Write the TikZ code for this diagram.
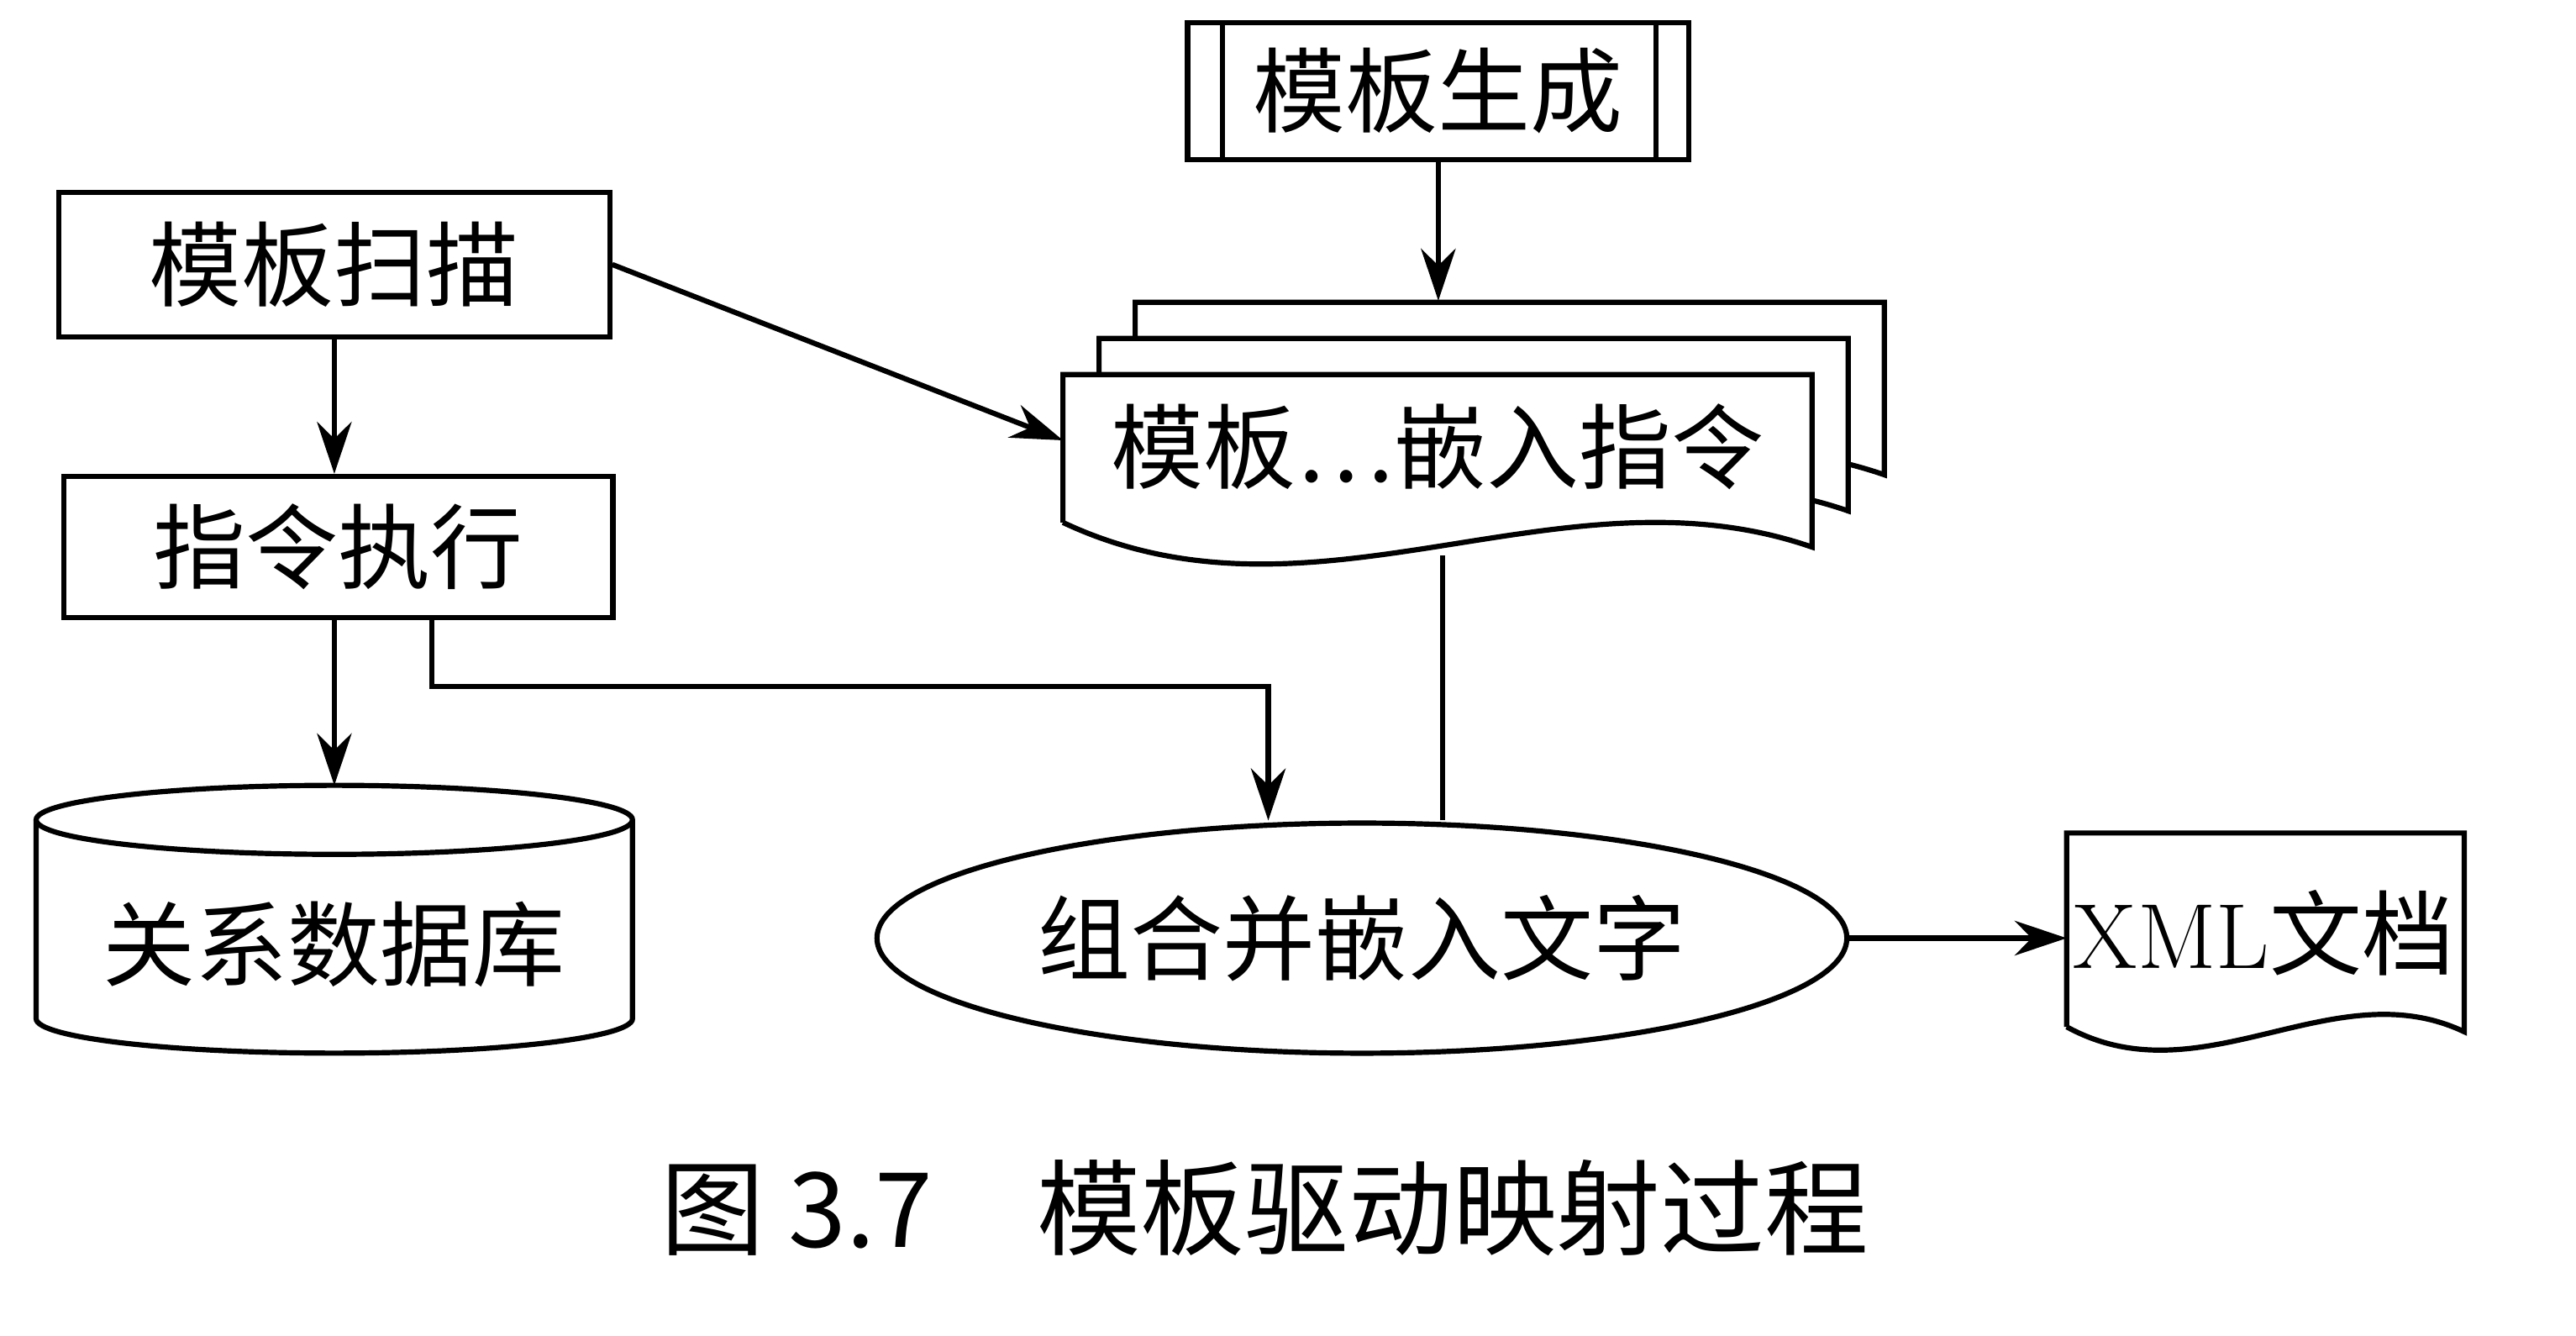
\documentclass[tikz,border=0pt]{standalone}
\usepackage{fontspec}
\newfontfamily\cjk{Noto Sans CJK SC}
\usetikzlibrary{shapes.geometric,arrows.meta,positioning}
\begin{document}
\begin{tikzpicture}[x=0.01cm,y=-0.01cm,
  lbl/.style={font=\cjk\fontsize{16}{20}\selectfont},
  box/.style={draw,line width=0.9pt,lbl,inner sep=0pt},
  ln/.style={line width=0.9pt},
  arr/.style={ln,-{Stealth[length=9pt,width=6pt]}}]
\useasboundingbox (0,0) rectangle (1568,813);
% process box
\node[box,minimum width=3.05cm,minimum height=0.83cm] (gen) at (875.5,55.5) {模板生成};
\draw[ln] (744,14) -- (744,97) (1008,14) -- (1008,97);
\node[box,minimum width=3.35cm,minimum height=0.88cm] (scan) at (203.5,161) {模板扫描};
\node[box,minimum width=3.34cm,minimum height=0.86cm] (exec) at (206,333) {指令执行};
% cylinder
\draw[ln] (22,499) -- (22,620) arc[start angle=180,end angle=0,x radius=181.5,y radius=21] -- (385,499);
\draw[ln] (203.5,499) ellipse[x radius=181.5,y radius=21];
\coordinate (dbT) at (203.5,478);
\node[lbl] (db) at (203.5,575) {关系数据库};
% multidocument
\foreach \dx/\dy in {44/-44,22/-22}{
 \draw[ln,fill=white] (647+\dx,318+\dy) -- (647+\dx,228+\dy) -- (1103+\dx,228+\dy) -- (1103+\dx,333+\dy)
   .. controls (950+\dx,280+\dy) and (800+\dx,390+\dy) .. (647+\dx,318+\dy);}
\draw[ln,fill=white] (647,318) -- (647,228) -- (1103,228) -- (1103,333)
   .. controls (950,280) and (800,390) .. (647,318);
\node[lbl] (tpl) at (875,272) {模板…嵌入指令};
\coordinate (tplL) at (647,268);
\coordinate (tplT) at (875.5,183);
\coordinate (tplB) at (878,338);
% ellipse
\node[box,ellipse,minimum width=5.9cm,minimum height=1.4cm] (comb) at (829,571) {组合并嵌入文字};
% XML document
\draw[ln] (1258,625) -- (1258,507) -- (1500,507) -- (1500,628)
   .. controls (1420,590) and (1340,670) .. (1258,625);
\node[font=\fontsize{16}{20}\selectfont] (xml) at (1378,568) {XML\cjk 文档};
\coordinate (xmlL) at (1258,571);
% caption
\node[font=\cjk\fontsize{18}{20}\selectfont] (cap) at (770,735) {图 3.7\quad 模板驱动映射过程};
% connectors
\draw[arr] (gen.south) -- (tplT);
\draw[arr] (scan.east) -- (tplL);
\draw[arr] (scan.south) -- (exec.north -| scan.south);
\draw[arr] (exec.south -| scan.south) -- (dbT);
\draw[arr] (exec.south -| 263,0) |- (772,418) -- (comb.north -| 772,0);
\draw[ln] (tplB) -- (comb.north -| tplB);
\draw[arr] (comb.east) -- (xmlL);
\end{tikzpicture}
\end{document}
